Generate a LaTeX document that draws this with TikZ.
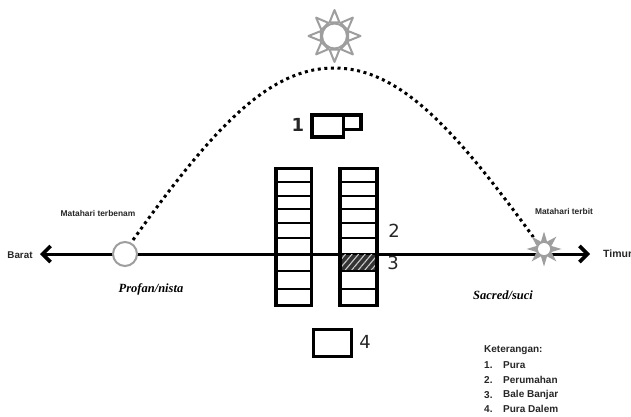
\documentclass[tikz,border=0pt]{standalone}
\usepackage{fontspec}
\setmainfont{Liberation Sans}
\newfontfamily\serifbi{Liberation Serif}
\newfontfamily\numfont{DejaVu Sans}
\usepackage{xcolor}
\usepackage{tikz}
\usetikzlibrary{shapes,positioning,arrows.meta,calc,patterns.meta}
\definecolor{sungray}{gray}{0.62}
\tikzset{
    house/.style={draw, line width=3.5pt, inner sep=0pt},
    floorline/.style={line width=1.4pt},
    number/.style={font=\numfont\fontsize{18}{18}\selectfont, inner sep=0pt, text=black!85},
    smalltext/.style={font=\bfseries\fontsize{8.4}{8.4}\selectfont, inner sep=0pt, text=black!85},
    legendtext/.style={font=\bfseries\fontsize{10}{10}\selectfont, inner sep=0pt, text=black!85, anchor=west},
    place/.style={font=\serifbi\bfseries\itshape\fontsize{12.5}{12.5}\selectfont, inner sep=0pt}
}
\begin{document}
\begin{tikzpicture}[x=1pt,y=-1pt]
    \useasboundingbox (0,0) rectangle (631,417);

    \coordinate (west) at (40,254);
    \coordinate (east) at (590,254);
    \draw[line width=3pt, {Straight Barb[length=8pt,width=16pt,line width=3.6pt]}-{Straight Barb[length=8pt,width=16pt,line width=3.6pt]}] (west) -- (east);

    \coordinate (dusk) at (133,240);
    \coordinate (noon) at (334,68);
    \coordinate (dawn) at (534,238);
    \draw[line width=3pt, dash pattern=on 3pt off 3.6pt] (dusk) .. controls (215,125) and (270,68) .. (noon) .. controls (398,68) and (452,125) .. (dawn);

    % houses
    \node[fill=black!80, minimum width=37pt, minimum height=17pt, inner sep=0pt] (hatchbg) at (358.5,263) {};
    \fill[pattern={Lines[angle=50,distance=5pt,line width=1.1pt]}, pattern color=white!80!black] (hatchbg.north west) rectangle (hatchbg.south east);
    \foreach \x/\w/\name in {293.5/35.5/left,358.5/37/right} {
        \node[house, minimum width=\w pt, minimum height=137pt] (\name) at (\x,237) {};
        \foreach \y in {182,196,209,223,238,271,289} {
            \draw[floorline] ({\x-18},\y) -- ({\x+18},\y);
        }
    }

    \node[house, minimum width=17.5pt, minimum height=14.5pt] (puraside) at (352,122.25) {};
    \node[house, fill=white, minimum width=31.5pt, minimum height=21.5pt] (pura) at (327.5,126) {};
    \node[house, minimum width=38pt, minimum height=27pt] (dalem) at (332.5,343) {};

    \node[number] (n1) at (298,125) {\bfseries 1};
    \node[number] (n2) at (394,231) {2};
    \node[number] (n3) at (393,263) {3};
    \node[number] (n4) at (365,342) {4};

    % suns
    \foreach \a in {0,45,...,315} {
        \draw[sungray, line width=2pt, line join=round] ($(334.5,36)+(\a-20:14.5)$) -- ($(334.5,36)+(\a:26)$) -- ($(334.5,36)+(\a+20:14.5)$) -- cycle;
    }
    \node[circle, draw=sungray, line width=2pt, fill=white, minimum size=25pt, inner sep=0pt] (sunhigh) at (334.5,36) {};
    \node[circle, draw=sungray, line width=2pt, fill=white, minimum size=24pt, inner sep=0pt] (sunset) at (125,254) {};
    \node[star, star points=8, star point ratio=2.2, fill=sungray, minimum size=35pt, inner sep=0pt] (sunrise) at (544,249) {};
    \node[circle, fill=white, minimum size=12pt, inner sep=0pt] (sunrisecore) at (544,249) {};

    \node[smalltext, font=\bfseries\fontsize{9.8}{9.8}\selectfont] (barat) at (20,255) {Barat};
    \node[smalltext, font=\bfseries\fontsize{10.5}{10.5}\selectfont, anchor=west] (timur) at (603,254) {Timur};
    \node[smalltext] (terbenam) at (98,213) {Matahari terbenam};
    \node[smalltext] (terbit) at (564,211) {Matahari terbit};
    \node[place] (profan) at (151,289) {Profan/nista};
    \node[place] (sacred) at (503,295) {Sacred/suci};

    \node[legendtext] (ket) at (484,350) {Keterangan:};
    \foreach \i/\t/\y in {1/Pura/365,2/Perumahan/380,3/Bale Banjar/395,4/Pura Dalem/409} {
        \node[legendtext] (num\i) at (484,\y) {\i.};
        \node[legendtext] (item\i) at (503,\y) {\t};
    }
\end{tikzpicture}
\end{document}
